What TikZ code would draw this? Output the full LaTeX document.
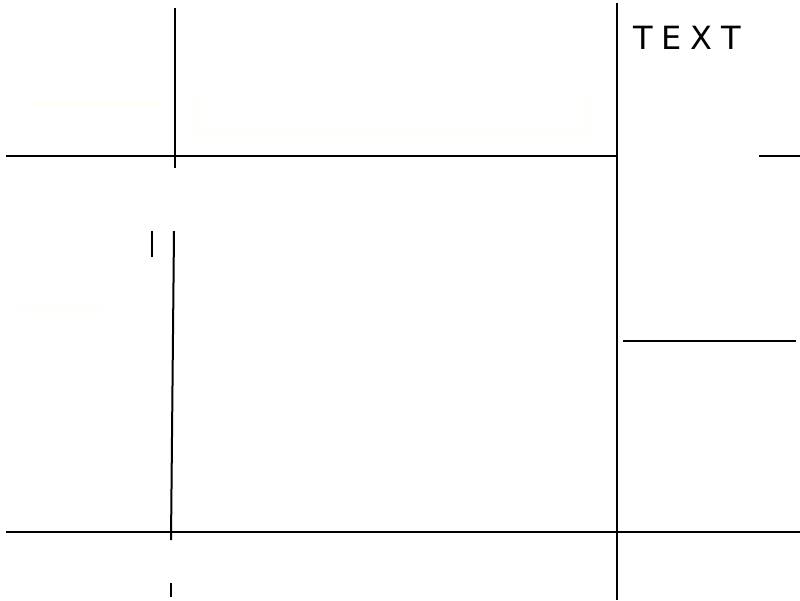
\documentclass[tikz,border=0pt]{standalone}
\usepackage{fontspec}
\newfontfamily\handfont[LetterSpace=28]{DejaVu Sans}
\begin{document}
\begin{tikzpicture}[x=1pt,y=-1pt,
  ink/.style={line width=2pt, black},
  faint/.style={line width=2pt, color={rgb,255:red,255;green,255;blue,245}},
  label/.style={font=\handfont\fontsize{32}{33}\selectfont, inner sep=0pt, anchor=north west}]
\useasboundingbox[fill=white] (0,0) rectangle (800,600);
% faint traces
\draw[faint] (17,104) -- (160,104);
\draw[faint] (197,90) -- (197,133) -- (590,133) -- (590,90);
\draw[faint] (15,310) -- (110,310);
% coordinates
\coordinate (v1t) at (175,8);   \coordinate (v1b) at (175,168);
\coordinate (h1l) at (6,156);   \coordinate (h1r) at (617,156);
\coordinate (h1bl) at (759,156); \coordinate (h1br) at (800,156);
\coordinate (vrt) at (617,3);   \coordinate (vrb) at (617,600);
\coordinate (s1t) at (152,231); \coordinate (s1b) at (152,257);
\coordinate (v2t) at (174,231); \coordinate (v2b) at (171,540);
\coordinate (s2t) at (171,583); \coordinate (s2b) at (171,597);
\coordinate (h2l) at (6,532);   \coordinate (h2r) at (800,532);
\coordinate (h3l) at (623,341); \coordinate (h3r) at (796,341);
% lines
\draw[ink] (v1t) -- (v1b);
\draw[ink] (h1l) -- (h1r);
\draw[ink] (h1bl) -- (h1br);
\draw[ink] (vrt) -- (vrb);
\draw[ink] (s1t) -- (s1b);
\draw[ink] (v2t) -- (v2b);
\draw[ink] (s2t) -- (s2b);
\draw[ink] (h2l) -- (h2r);
\draw[ink] (h3l) -- (h3r);
% text
\node[label] (txt) at (633,26) {TEXT};
\end{tikzpicture}
\end{document}
